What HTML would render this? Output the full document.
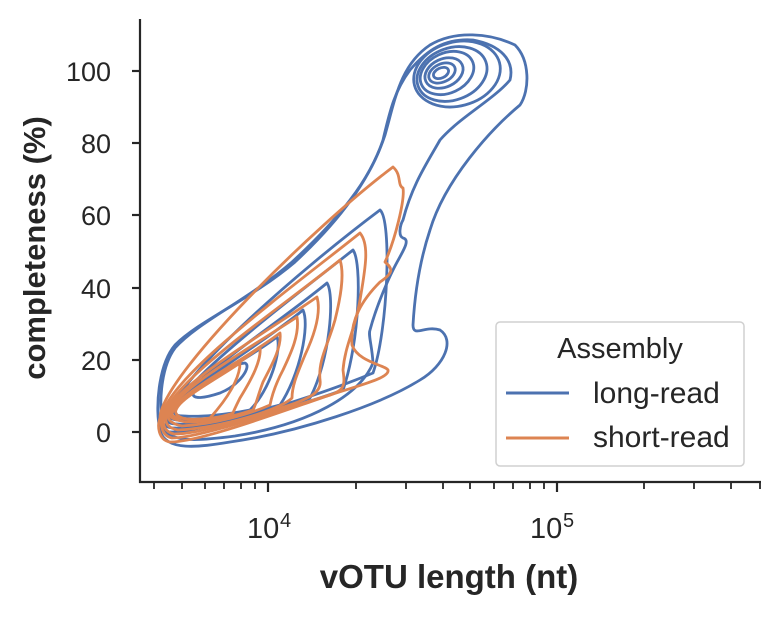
<!DOCTYPE html>
<html><head><meta charset="utf-8"><style>
body{margin:0;background:#fff}
svg text{font-family:"Liberation Sans",Arial,sans-serif;fill:#262626}
</style></head><body>
<svg width="779" height="612" viewBox="0 0 779 612" xmlns="http://www.w3.org/2000/svg">
<g fill="none" stroke-width="2.8" stroke-linejoin="round">
<g stroke="#4c72b0">
<path d="M160,430 C165,452 200,447 230,442 C300,432 380,405 420,380 C445,365 455,340 440,330 C425,325 413,338 413,325 C415,290 420,260 430,230 C445,180 490,130 520,105 C530,90 530,60 515,45 C490,33 455,30 430,45 C400,65 395,100 385,135 C370,180 340,220 295,262 C250,300 200,320 175,345 C158,365 155,410 160,430Z"/>
<path d="M164,428 C170,444 205,440 235,436 C310,424 360,395 373,363 C372,345 368,335 370,330 C378,300 393,270 393,270 C400,255 412,240 403,238 C398,236 400,225 403,220 C412,185 427,163 440,140 C460,117 493,100 510,80 C515,60 500,45 473,40 C445,38 427,50 410,70 C395,90 390,110 383,140 C370,180 338,220 292,262 C248,300 198,322 175,348 C160,368 158,410 164,428Z"/>
<path d="M166,425 C166,385 300,270 380,210 C392,220 388,330 373,373 C313,398 200,432 172,432 C162,432 162,428 166,425Z"/>
<path d="M168,423 C168,390 290,300 353,250 C362,262 360,340 343,390 C283,412 200,430 175,428 C165,428 165,425 168,423Z"/>
<path d="M170,420 C170,392 270,330 327,283 C335,295 330,360 310,398 C260,415 200,426 178,424 C168,424 168,422 170,420Z"/>
<path d="M172,416 C172,395 255,350 303,310 C310,325 300,375 280,405 C240,416 200,422 180,420 C172,420 170,418 172,416Z"/>
<path d="M175,412 C176,395 240,365 277,337 C282,350 270,390 250,410 C225,415 200,417 185,416 C176,416 174,414 175,412Z"/>
<path d="M193,393 C195,380 230,365 245,363 C252,366 240,385 220,393 C205,398 192,400 193,393Z"/>
<ellipse cx="457" cy="74" rx="44" ry="32" transform="rotate(-15 457 74)"/>
<ellipse cx="452" cy="74" rx="36" ry="26" transform="rotate(-20 452 74)"/>
<ellipse cx="447" cy="73" rx="28" ry="20" transform="rotate(-25 447 73)"/>
<ellipse cx="444" cy="73" rx="20" ry="14" transform="rotate(-25 444 73)"/>
<ellipse cx="442" cy="73" rx="14" ry="9" transform="rotate(-25 442 73)"/>
<ellipse cx="441" cy="73" rx="8" ry="5" transform="rotate(-25 441 73)"/>
</g>
<g stroke="#dd8452">
<path d="M160,418 C160,378 313,227 393,167 C402,175 397,185 403,188 C405,200 395,240 385,262 C392,268 395,272 380,282 C362,300 350,320 352,345 C358,362 385,365 388,370 C390,378 360,385 330,395 C280,412 200,442 170,442 C158,440 157,425 160,418Z"/>
<path d="M162,418 C162,382 295,285 360,233 C370,245 365,270 360,300 C355,330 345,345 343,370 C345,385 345,390 330,395 C280,410 200,438 172,438 C162,436 160,425 162,418Z"/>
<path d="M164,418 C164,386 285,305 340,260 C345,275 340,300 335,320 C328,345 318,360 320,380 C322,392 310,398 290,405 C250,418 200,434 174,434 C165,432 162,425 164,418Z"/>
<path d="M166,417 C166,390 270,330 317,297 C322,315 312,340 305,355 C298,372 292,385 292,398 C280,410 220,428 178,430 C168,428 165,423 166,417Z"/>
<path d="M168,416 C168,394 255,345 297,317 C300,335 290,355 283,370 C275,385 272,395 270,405 C250,414 215,424 182,426 C172,424 168,420 168,416Z"/>
<path d="M170,415 C170,398 245,360 280,333 C282,348 270,368 263,382 C258,395 256,405 253,410 C235,416 210,422 186,422 C175,420 170,418 170,415Z"/>
<path d="M172,414 C174,400 230,372 260,347 C262,362 248,385 240,398 C236,406 234,410 233,413 C220,418 200,420 188,419 C178,418 172,417 172,414Z"/>
<path d="M176,410 C180,398 215,380 240,363 C240,378 228,398 210,418 C198,420 185,420 180,417 C176,415 175,412 176,410Z"/>
</g>
</g>
<g stroke="#262626" stroke-width="2.2">
<line x1="140" y1="19" x2="140" y2="483"/>
<line x1="139" y1="482" x2="761" y2="482"/>
<line x1="132" y1="71" x2="140" y2="71"/><line x1="132" y1="143" x2="140" y2="143"/>
<line x1="132" y1="215" x2="140" y2="215"/><line x1="132" y1="288" x2="140" y2="288"/>
<line x1="132" y1="360" x2="140" y2="360"/><line x1="132" y1="432" x2="140" y2="432"/>
<line x1="268" y1="482" x2="268" y2="492"/><line x1="557" y1="482" x2="557" y2="492"/>
</g>
<g stroke="#262626" stroke-width="1.8">
<line x1="154" y1="482" x2="154" y2="489"/><line x1="182" y1="482" x2="182" y2="489"/>
<line x1="205" y1="482" x2="205" y2="489"/><line x1="224" y1="482" x2="224" y2="489"/>
<line x1="241" y1="482" x2="241" y2="489"/><line x1="255" y1="482" x2="255" y2="489"/>
<line x1="356" y1="482" x2="356" y2="489"/><line x1="406" y1="482" x2="406" y2="489"/>
<line x1="443" y1="482" x2="443" y2="489"/><line x1="470" y1="482" x2="470" y2="489"/>
<line x1="494" y1="482" x2="494" y2="489"/><line x1="513" y1="482" x2="513" y2="489"/>
<line x1="530" y1="482" x2="530" y2="489"/><line x1="544" y1="482" x2="544" y2="489"/>
<line x1="644" y1="482" x2="644" y2="489"/><line x1="694" y1="482" x2="694" y2="489"/>
<line x1="731" y1="482" x2="731" y2="489"/><line x1="760" y1="482" x2="760" y2="489"/>
</g>
<g font-size="27" text-anchor="end">
<text x="111" y="81">100</text><text x="111" y="153">80</text>
<text x="111" y="225">60</text><text x="111" y="298">40</text>
<text x="111" y="370">20</text><text x="111" y="442">0</text>
</g>
<text x="247" y="538" font-size="29">10</text><text x="280" y="527" font-size="20">4</text>
<text x="530" y="538" font-size="29">10</text><text x="563" y="527" font-size="20">5</text>
<text x="449" y="588" font-size="33" font-weight="bold" text-anchor="middle">vOTU length (nt)</text>
<text transform="translate(45 248) rotate(-90)" font-size="31" font-weight="bold" text-anchor="middle">completeness (%)</text>
<rect x="496" y="322" width="248" height="144" rx="4" fill="#fff" fill-opacity="0.85" stroke="#d0d0d0" stroke-width="1.5"/>
<text x="620" y="358" font-size="29" text-anchor="middle">Assembly</text>
<line x1="506" y1="393" x2="569" y2="393" stroke="#4c72b0" stroke-width="3"/>
<text x="593" y="403" font-size="30">long-read</text>
<line x1="506" y1="438" x2="569" y2="438" stroke="#dd8452" stroke-width="3"/>
<text x="593" y="447" font-size="30">short-read</text>
</svg>
</body></html>
